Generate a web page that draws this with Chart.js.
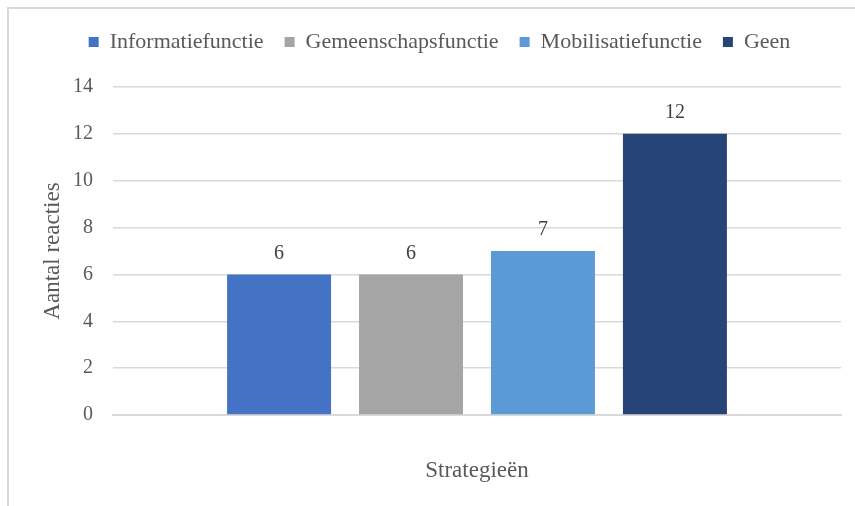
<!DOCTYPE html>
<html>
<head>
<meta charset="utf-8">
<script src="https://cdn.jsdelivr.net/npm/chart.js@4/dist/chart.umd.min.js"></script>
<style>
  html, body { margin: 0; padding: 0; background: #fff; }
  #wrap { width: 855px; height: 506px; position: relative; }
</style>
</head>
<body>
<div id="wrap"><canvas id="chart"></canvas></div>
<script>
const categories = [''];
const seriesNames = ['Informatiefunctie', 'Gemeenschapsfunctie', 'Mobilisatiefunctie', 'Geen'];
const seriesValues = [[6], [6], [7], [12]];
const seriesColors = ['#4472C4', '#A5A5A5', '#5B9BD5', '#264478'];
const yTicks = [0, 2, 4, 6, 8, 10, 12, 14];

const font = "'Liberation Serif', 'Times New Roman', serif";
const textColor = '#595959';
const gridColor = '#d9d9d9';

// light frame around the chart, cut off at right and bottom like the screenshot
const framePlugin = {
    id: 'frame',
    beforeDraw(chart) {
        const ctx = chart.ctx;
        ctx.save();
        ctx.fillStyle = '#fff';
        ctx.fillRect(0, 0, chart.width, chart.height);
        ctx.strokeStyle = gridColor;
        ctx.lineWidth = 2;
        ctx.strokeRect(8, 8, chart.width + 20, chart.height + 20);
        ctx.restore();
    }
};

// extra room below the legend row
const legendGap = {
    id: 'legendGap',
    beforeLayout(chart) {
        const legend = chart.legend;
        if (!legend || legend._gapPatched) return;
        const fit = legend.fit.bind(legend);
        legend.fit = function () {
            fit();
            this.height += 24;
        };
        legend._gapPatched = true;
    }
};

// value labels above each bar
const valueLabels = {
    id: 'valueLabels',
    afterDatasetsDraw(chart) {
        const ctx = chart.ctx;
        ctx.save();
        ctx.font = '20px ' + font;
        ctx.fillStyle = '#404040';
        ctx.textAlign = 'center';
        ctx.textBaseline = 'middle';
        chart.data.datasets.forEach((ds, i) => {
            chart.getDatasetMeta(i).data.forEach((bar, j) => {
                ctx.fillText(ds.data[j], bar.x, bar.y - 21);
            });
        });
        ctx.restore();
    }
};

new Chart(document.getElementById('chart'), {
    type: 'bar',
    data: {
        labels: categories,
        datasets: seriesNames.map((name, i) => ({
            label: name,
            data: seriesValues[i],
            backgroundColor: seriesColors[i],
            categoryPercentage: 0.725,
            barPercentage: 0.788
        }))
    },
    options: {
        responsive: true,
        maintainAspectRatio: false,
        animation: false,
        layout: { padding: { left: 38, right: 14, top: 10, bottom: 10 } },
        plugins: {
            legend: {
                position: 'top',
                labels: {
                    boxWidth: 10,
                    boxHeight: 10,
                    padding: 21,
                    color: textColor,
                    font: { family: font, size: 22 }
                }
            },
            tooltip: { enabled: false }
        },
        scales: {
            x: {
                afterFit(axis) { axis.height = 81; },
                grid: { display: false },
                border: { color: gridColor, width: 2 },
                ticks: { display: false },
                title: {
                    display: true,
                    text: 'Strategieën',
                    color: textColor,
                    font: { family: font, size: 23 },
                    padding: { top: 0, bottom: 11 }
                }
            },
            y: {
                min: 0,
                max: 14,
                afterFit(axis) { axis.width = 75; },
                afterBuildTicks(axis) {
                    axis.ticks = yTicks.map(v => ({ value: v }));
                },
                grid: { color: gridColor, lineWidth: 1.5, drawTicks: false },
                border: { display: false },
                ticks: {
                    color: textColor,
                    padding: 20,
                    font: { family: font, size: 20 }
                },
                title: {
                    display: true,
                    text: 'Aantal reacties',
                    color: textColor,
                    font: { family: font, size: 23 },
                    padding: { top: 1, bottom: 0 }
                }
            }
        }
    },
    plugins: [framePlugin, legendGap, valueLabels]
});
</script>
</body>
</html>
